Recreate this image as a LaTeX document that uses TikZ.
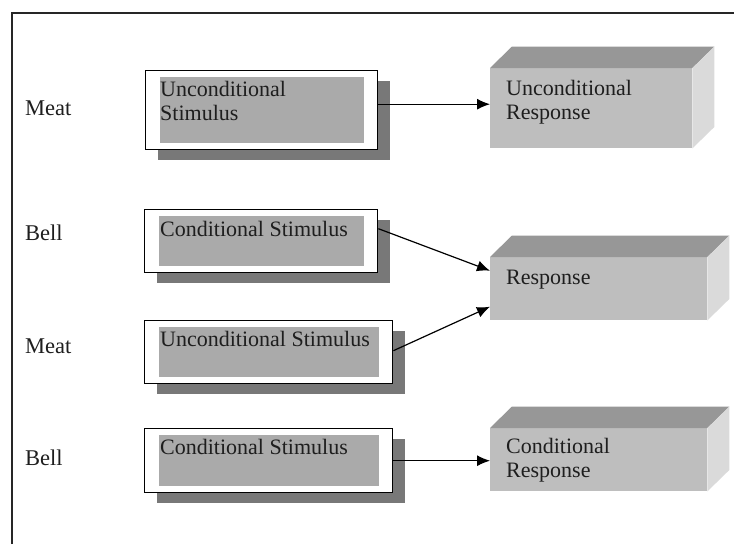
\documentclass[tikz,border=0pt]{standalone}
\usepackage{fontspec}
\setmainfont{Liberation Serif}
\usetikzlibrary{arrows.meta,shadows}

\definecolor{innergray}{HTML}{AAAAAA}
\definecolor{shadowgray}{HTML}{787878}
\definecolor{frontgray}{HTML}{BEBEBE}
\definecolor{topgray}{HTML}{979797}
\definecolor{sidegray}{HTML}{DADADA}
\definecolor{inkgray}{HTML}{1E1E1E}

\tikzset{
  txt/.style={font=\fontsize{22}{24}\selectfont, text=inkgray, inner sep=0pt, align=left},
  sidelabel/.style={font=\fontsize{22.5}{24}\selectfont, text=inkgray, inner sep=0pt, anchor=base west},
  stimbox/.style={draw=black, line width=1.4pt, fill=white, anchor=north west,
    inner sep=0pt, minimum height=63pt,
    drop shadow={shadow xshift=12pt, shadow yshift=-10pt, fill=shadowgray, opacity=1},
    path picture={\fill[innergray]
      ([shift={(14pt,-6.5pt)}]path picture bounding box.north west) rectangle
      ([shift={(-14pt,6.5pt)}]path picture bounding box.south east);}},
  front/.style={fill=frontgray, anchor=north west, inner sep=0pt},
  arr/.style={draw=black, line width=1.2pt, -{Latex[length=13pt,width=11pt]}},
  frame/.style={draw=black!85, line width=2.4pt}
}

% draws the top and right faces behind a cuboid's front face
\newcommand{\cuboidfaces}[1]{%
  \fill[topgray] (#1.north west) -- ([shift={(22pt,21.5pt)}]#1.north west)
    -- ([shift={(22pt,21.5pt)}]#1.north east) -- (#1.north east) -- cycle;
  \fill[sidegray] (#1.north east) -- ([shift={(22pt,21.5pt)}]#1.north east)
    -- ([shift={(22pt,21.5pt)}]#1.south east) -- (#1.south east) -- cycle;
}

\begin{document}
\begin{tikzpicture}[x=1pt, y=-1pt]
  \useasboundingbox (0,0) rectangle (734,544);

  % outer frame (top and left edges)
  \draw[frame] (12,544) -- (12,13) -- (734,13);

  % left labels
  \node[sidelabel] (meatA) at (25,115) {Meat};
  \node[sidelabel] (bellA) at (25,240) {Bell};
  \node[sidelabel] (meatB) at (25,353) {Meat};
  \node[sidelabel] (bellB) at (25,465) {Bell};

  % stimulus boxes
  \node[stimbox, minimum width=232pt, minimum height=79pt] (s1) at (145,70) {};
  \node[stimbox, minimum width=233pt] (s2) at (144,209) {};
  \node[stimbox, minimum width=248pt] (s3) at (144,320) {};
  \node[stimbox, minimum width=248pt, minimum height=64pt] (s4) at (144,428) {};

  % multi-line texts are anchored at the baseline of their last line
  \node[txt, anchor=base west] (t1) at (160,120) {Unconditional\\Stimulus};
  \node[txt, anchor=base west] (t2) at (160,236) {Conditional Stimulus};
  \node[txt, anchor=base west] (t3) at (160,346) {Unconditional Stimulus};
  \node[txt, anchor=base west] (t4) at (160,454) {Conditional Stimulus};

  % response cuboids
  \node[front, minimum width=202pt, minimum height=80pt] (r1) at (490,68) {};
  \node[front, minimum width=217pt, minimum height=63pt] (r2) at (490,257) {};
  \node[front, minimum width=217pt, minimum height=63pt] (r3) at (490,428) {};
  \cuboidfaces{r1}
  \cuboidfaces{r2}
  \cuboidfaces{r3}

  \node[txt, anchor=base west] (u1) at (506,119) {Unconditional\\Response};
  \node[txt, anchor=base west] (u2) at (506,284) {Response};
  \node[txt, anchor=base west] (u3) at (506,477) {Conditional\\Response};

  % connectors
  \path ([yshift=6pt]s1.east) coordinate (a1);
  \draw[arr] (a1) -- (a1 -| r1.west);
  \draw[arr] ([yshift=12.5pt]s2.east) -- ([yshift=18pt]r2.west);
  \draw[arr] ([yshift=1.5pt]s3.east) -- ([yshift=-18pt]r2.west);
  \path (s4.east) coordinate (a4);
  \draw[arr] (a4) -- (a4 -| r3.west);
\end{tikzpicture}
\end{document}
